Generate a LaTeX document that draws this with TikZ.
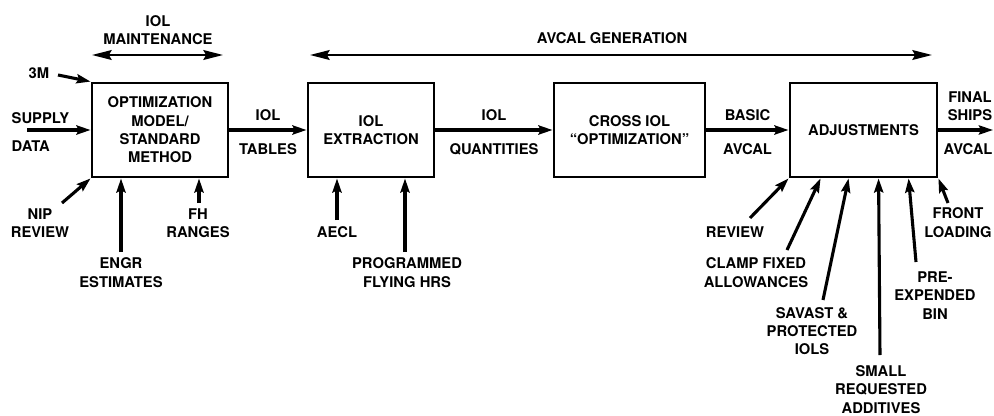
\documentclass[tikz,border=0pt]{standalone}
\usepackage{fontspec}
\setmainfont{TeX Gyre Heros}
\usetikzlibrary{arrows.meta,calc}

\begin{document}
\begin{tikzpicture}[x=0.025cm, y=-0.025cm,
  every node/.style={font=\fontsize{10.5}{13}\selectfont\bfseries, align=center, inner sep=1pt},
  box/.style={rectangle, draw, line width=2pt, minimum height=2.35cm, inner sep=2pt},
  flow/.style={line width=2.2pt, -{Stealth[length=10pt,width=6.5pt,inset=1.5pt]}},
  span/.style={line width=1.5pt, {Stealth[length=14pt,width=7pt,inset=2pt]}-{Stealth[length=14pt,width=7pt,inset=2pt]}}]
\useasboundingbox (0,0) rectangle (994,415);

\node[box, minimum width=3.4cm] (opt) at (160,130) {OPTIMIZATION\\MODEL/\\STANDARD\\METHOD};
\node[box, minimum width=3.15cm] (ext) at (371,130) {IOL\\EXTRACTION};
\node[box, minimum width=3.775cm] (cross) at (629.5,130) {CROSS IOL\\``OPTIMIZATION''};
\node[box, minimum width=3.675cm] (adj) at (863.5,130) {ADJUSTMENTS};

\node (maint) at (158,30) {IOL\\MAINTENANCE};
\coordinate (m1) at (92,55);
\coordinate (m2) at (223,55);
\draw[span] (m1) -- (m2);
\node (gen) at (612,38) {AVCAL GENERATION};
\coordinate (g1) at (310,55);
\coordinate (g2) at (932,55);
\draw[span] (g1) -- (g2);

\node (mm) at (39,73) {3M};
\coordinate (mmt) at (58,75);
\draw[flow] (mmt) -- (opt.north west);
\node[anchor=west] (supply) at (10,118) {SUPPLY};
\node[anchor=west] (data) at (10,146) {DATA};
\coordinate (sdt) at (27,130);
\draw[flow] (sdt) -- (opt.west);
\node (nip) at (40,223) {NIP\\REVIEW};
\coordinate (nipt) at (62,203);
\draw[flow] (nipt) -- (opt.south west);
\node (engr) at (121,272.5) {ENGR\\ESTIMATES};
\coordinate (engrt) at (121,252);
\draw[flow] (engrt) -- (engrt |- opt.south);
\node (fh) at (198,223) {FH\\RANGES};
\coordinate (fht) at (199,203);
\draw[flow] (fht) -- (fht |- opt.south);

\node (aecl) at (337,232) {AECL};
\coordinate (aeclt) at (337,220);
\draw[flow] (aeclt) -- (aeclt |- ext.south);
\node (prog) at (407,272.5) {PROGRAMMED\\FLYING HRS};
\coordinate (progt) at (405,252);
\draw[flow] (progt) -- (progt |- ext.south);

\draw[flow] (opt) -- node[above=4.5pt] {IOL} node[below=7.3pt] {TABLES} (ext);
\draw[flow] (ext) -- node[above=4.5pt] {IOL} node[below=7.3pt] {QUANTITIES} (cross);
\draw[flow] (cross) -- node[above=4.5pt] {BASIC} node[below=7.3pt] {AVCAL} (adj);
\coordinate (out) at (993,130);
\draw[flow] (adj) -- (out);
\node (final) at (970,106) {FINAL\\SHIPS};
\node (favcal) at (968,149) {AVCAL};

\node (rev) at (735,232) {REVIEW};
\coordinate (revt) at (750,218);
\draw[flow] (revt) -- (adj.south west);
\node (clamp) at (756,272.5) {CLAMP FIXED\\ALLOWANCES};
\coordinate (clampt) at (787,250);
\draw[flow] (clampt) -- ($(adj.south west)+(32,0)$);
\node (savast) at (812,331) {SAVAST \&\\PROTECTED\\IOLS};
\coordinate (savastt) at (823,300);
\draw[flow] (savastt) -- ($(adj.south west)+(60,0)$);
\node (small) at (881,389.5) {SMALL\\REQUESTED\\ADDITIVES};
\coordinate (smallt) at (880,355);
\draw[flow] (smallt) -- ($(adj.south west)+(90,0)$);
\node (pre) at (935,295.5) {PRE-\\EXPENDED\\BIN};
\coordinate (pret) at (916,262);
\draw[flow] (pret) -- ($(adj.south west)+(120,0)$);
\node (front) at (958,222.5) {FRONT\\LOADING};
\coordinate (frontt) at (948,203);
\draw[flow] (frontt) -- (adj.south east);
\end{tikzpicture}
\end{document}
